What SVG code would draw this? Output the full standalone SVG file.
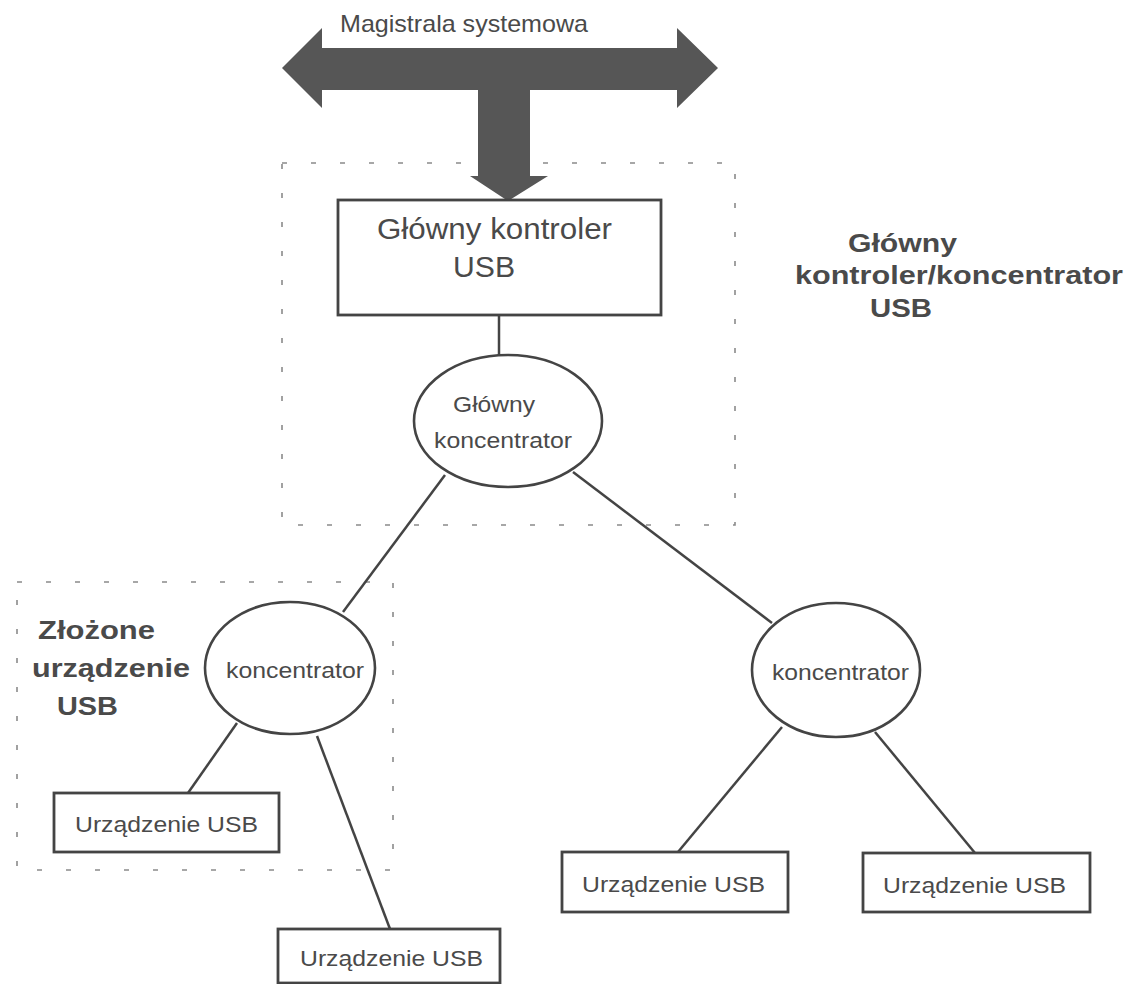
<svg xmlns="http://www.w3.org/2000/svg" width="1135" height="984" viewBox="0 0 1135 984">
<style>
.t{font-family:"Liberation Sans",Arial,sans-serif;fill:#4a4a4a}
.b{font-family:"Liberation Sans",Arial,sans-serif;font-weight:bold;fill:#4a4a4a}
.box{fill:#fff;stroke:#444;stroke-width:2.8}
.hub{fill:#fff;stroke:#444;stroke-width:2.6}
.ln{stroke:#444;stroke-width:2.5;fill:none}
.dash{fill:none;stroke:#8a8a8a;stroke-width:1.6;stroke-dasharray:5 24}
</style>
<rect width="1135" height="984" fill="#fff"/>
<g id="groups">
<rect id="host-group" class="dash" x="282" y="163" width="453" height="362"/>
<rect id="compound-group" class="dash" x="17" y="582" width="376" height="288"/>
</g>
<g id="bus">
<polygon fill="#565656" points="282,68 322,28 322,48 677,48 677,28 718,68 677,108 677,90 530,90 530,176 548,176 508,201 470,176 478,176 478,90 322,90 322,108"/>
<text class="t" x="340" y="32" font-size="24" textLength="248" lengthAdjust="spacingAndGlyphs">Magistrala systemowa</text>
</g>
<g id="connectors">
<line class="ln" x1="499" y1="315" x2="499" y2="355"/>
<line class="ln" x1="445" y1="475" x2="343" y2="612"/>
<line class="ln" x1="573" y1="472" x2="772" y2="623"/>
<line class="ln" x1="237" y1="723" x2="188" y2="793"/>
<line class="ln" x1="317" y1="736" x2="390" y2="929"/>
<line class="ln" x1="782" y1="727" x2="678" y2="852"/>
<line class="ln" x1="875" y1="732" x2="975" y2="853"/>
</g>
<g id="host-controller">
<rect class="box" x="338" y="200" width="323" height="115"/>
<text class="t" x="377" y="239" font-size="29" textLength="235" lengthAdjust="spacingAndGlyphs">Główny kontroler</text>
<text class="t" x="453" y="277" font-size="29" textLength="62" lengthAdjust="spacingAndGlyphs">USB</text>
</g>
<g id="host-label">
<text class="b" x="848" y="252" font-size="25" textLength="109" lengthAdjust="spacingAndGlyphs">Główny</text>
<text class="b" x="795" y="284" font-size="25" textLength="328" lengthAdjust="spacingAndGlyphs">kontroler/koncentrator</text>
<text class="b" x="870" y="317" font-size="25" textLength="62" lengthAdjust="spacingAndGlyphs">USB</text>
</g>
<g id="root-hub">
<ellipse class="hub" cx="508" cy="421" rx="94" ry="66"/>
<text class="t" x="453" y="412" font-size="22" textLength="82" lengthAdjust="spacingAndGlyphs">Główny</text>
<text class="t" x="434" y="448" font-size="22" textLength="138" lengthAdjust="spacingAndGlyphs">koncentrator</text>
</g>
<g id="compound-label">
<text class="b" x="38" y="639" font-size="25" textLength="117" lengthAdjust="spacingAndGlyphs">Złożone</text>
<text class="b" x="32" y="677" font-size="25" textLength="158" lengthAdjust="spacingAndGlyphs">urządzenie</text>
<text class="b" x="57" y="715" font-size="25" textLength="61" lengthAdjust="spacingAndGlyphs">USB</text>
</g>
<g id="hub-left">
<ellipse class="hub" cx="290" cy="668" rx="85" ry="66"/>
<text class="t" x="226" y="678" font-size="22" textLength="138" lengthAdjust="spacingAndGlyphs">koncentrator</text>
</g>
<g id="hub-right">
<ellipse class="hub" cx="836" cy="670" rx="84" ry="67"/>
<text class="t" x="772" y="680" font-size="22" textLength="137" lengthAdjust="spacingAndGlyphs">koncentrator</text>
</g>
<g id="device-1">
<rect class="box" x="54" y="793" width="225" height="59"/>
<text class="t" x="75" y="832" font-size="22" textLength="183" lengthAdjust="spacingAndGlyphs">Urządzenie USB</text>
</g>
<g id="device-2">
<rect class="box" x="278" y="929" width="222" height="54"/>
<text class="t" x="300" y="966" font-size="22" textLength="183" lengthAdjust="spacingAndGlyphs">Urządzenie USB</text>
</g>
<g id="device-3">
<rect class="box" x="562" y="852" width="226" height="60"/>
<text class="t" x="582" y="892" font-size="22" textLength="183" lengthAdjust="spacingAndGlyphs">Urządzenie USB</text>
</g>
<g id="device-4">
<rect class="box" x="863" y="853" width="227" height="59"/>
<text class="t" x="883" y="893" font-size="22" textLength="183" lengthAdjust="spacingAndGlyphs">Urządzenie USB</text>
</g>
</svg>
